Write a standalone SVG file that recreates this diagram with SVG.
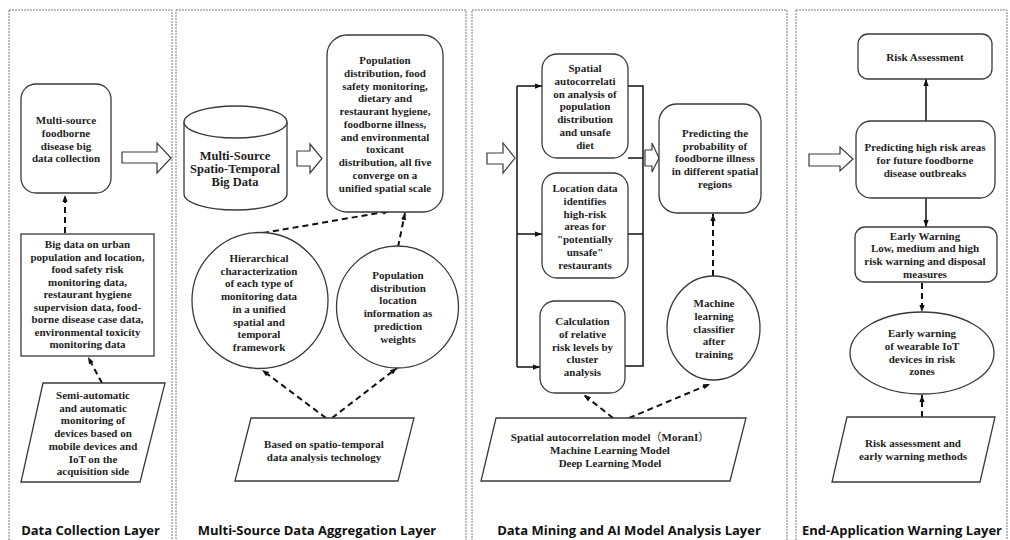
<svg xmlns="http://www.w3.org/2000/svg" width="1010" height="540" viewBox="0 0 1010 540">
<defs>
<style>
.panel{fill:none;stroke:#7a7a7a;stroke-width:1;stroke-dasharray:2 1}
.node{fill:#fff;stroke:#3a3a3a;stroke-width:1.3}
.hollow{fill:#fff;stroke:#3a3a3a;stroke-width:1.2}
.t{font-family:"Liberation Serif","Times New Roman",serif;font-weight:bold;font-size:11px;fill:#1e1e1e;text-anchor:middle}
.big{font-size:12.5px}
.title{font-family:"Open Sans","Noto Sans",sans-serif;font-weight:700;font-size:13px;fill:#111;text-anchor:middle}
.dash{fill:none;stroke:#111;stroke-width:2;stroke-dasharray:6 4;marker-end:url(#ah)}
.solid{fill:none;stroke:#111;stroke-width:1.5}
.solida{fill:none;stroke:#111;stroke-width:1.5;marker-end:url(#ah)}
</style>
<marker id="ah" viewBox="0 0 8 6" refX="8" refY="3" markerWidth="7" markerHeight="6" markerUnits="userSpaceOnUse" orient="auto">
<path d="M0,0 L8,3 L0,6 z" fill="#111"/>
</marker>
</defs>
<rect width="1010" height="540" fill="#fff"/>

<g id="panels">
<rect class="panel" x="9" y="10" width="163" height="540"/>
<rect class="panel" x="176" y="10" width="290" height="540"/>
<rect class="panel" x="472" y="10" width="315" height="540"/>
<rect class="panel" x="796" y="10" width="211" height="540"/>
</g>

<g id="titles">
<text class="title" x="90.5" y="535">Data Collection Layer</text>
<text class="title" x="317" y="535">Multi-Source Data Aggregation Layer</text>
<text class="title" x="629" y="535">Data Mining and AI Model Analysis Layer</text>
<text class="title" x="902" y="535">End-Application Warning Layer</text>
</g>

<g id="connectors">
<polygon class="hollow" points="122,152 157,152 157,143 171,158 157,173 157,163 122,163"/>
<polygon class="hollow" points="297,151 310,151 310,144 322,158.5 310,173 310,166 297,166"/>
<polygon class="hollow" points="487,153 503,153 503,143 515,158 503,173 503,164 487,164"/>
<polygon class="hollow" points="645,150 652,150 652,143 659,158 652,172 652,166 645,166"/>
<polygon class="hollow" points="809,154 840,154 840,147 853,159 840,171 840,166 809,166"/>
<path class="dash" d="M65,233 L65,195"/>
<path class="dash" d="M102,383 L88,357"/>
<path class="dash" d="M263,233 L390,211"/>
<path class="dash" d="M398,247 L405,213"/>
<path class="dash" d="M326,418 L262,370"/>
<path class="dash" d="M332,418 L397,368"/>
<path class="solid" d="M517,86 L517,367"/>
<path class="solida" d="M517,86 L542,86"/>
<path class="solida" d="M517,234 L542,234"/>
<path class="solida" d="M517,367 L540,367"/>
<path class="solid" d="M628,86 L643,86 L643,366 L625,366"/>
<path class="solid" d="M628,234 L643,234"/>
<path class="solid" d="M628,158 L643,158"/>
<path class="dash" d="M713,276 L713,214"/>
<path class="dash" d="M613,418 L584,395"/>
<path class="dash" d="M629,418 L710,384"/>
<path class="solida" d="M926,121 L926,79"/>
<path class="solida" d="M926,198 L926,227"/>
<path class="dash" d="M922,283 L922,312"/>
<path class="dash" d="M922,417 L922,395"/>
</g>

<g id="n-collection">
<rect class="node" x="21" y="84" width="90" height="109" rx="15"/>
<text class="t"><tspan x="66" y="124">Multi-source</tspan><tspan x="66" y="137">foodborne</tspan><tspan x="66" y="150">disease big</tspan><tspan x="66" y="162">data collection</tspan></text>
</g>

<g id="n-bigdata">
<rect class="node" x="21" y="234" width="133" height="122"/>
<text class="t"><tspan x="87.5" y="248">Big data on urban</tspan><tspan x="87.5" y="260.5">population and location,</tspan><tspan x="87.5" y="273">food safety risk</tspan><tspan x="87.5" y="285.5">monitoring data,</tspan><tspan x="87.5" y="298">restaurant hygiene</tspan><tspan x="87.5" y="310.5">supervision data, food-</tspan><tspan x="87.5" y="323">borne disease case data,</tspan><tspan x="87.5" y="335.5">environmental toxicity</tspan><tspan x="87.5" y="348">monitoring data</tspan></text>
</g>

<g id="n-semi">
<polygon class="node" points="43,383 165,383 140,482 21,482"/>
<text class="t"><tspan x="93" y="399">Semi-automatic</tspan><tspan x="93" y="411.7">and automatic</tspan><tspan x="93" y="424.4">monitoring of</tspan><tspan x="93" y="437.1">devices based on</tspan><tspan x="93" y="449.8">mobile devices and</tspan><tspan x="93" y="462.5">IoT on the</tspan><tspan x="93" y="475.2">acquisition side</tspan></text>
</g>

<g id="n-cylinder">
<path class="node" d="M184,122 L184,194 A51.5,16 0 0 0 287,194 L287,122"/>
<ellipse class="node" cx="235.5" cy="122" rx="51.5" ry="16"/>
<text class="t big"><tspan x="235" y="159.5">Multi-Source</tspan><tspan x="235" y="172.5">Spatio-Temporal</tspan><tspan x="235" y="185.5">Big Data</tspan></text>
</g>

<g id="n-converge">
<rect class="node" x="327" y="35" width="116" height="177" rx="20"/>
<text class="t"><tspan x="385" y="64">Population</tspan><tspan x="385" y="76.8">distribution, food</tspan><tspan x="385" y="89.5">safety monitoring,</tspan><tspan x="385" y="102.3">dietary and</tspan><tspan x="385" y="115">restaurant hygiene,</tspan><tspan x="385" y="127.8">foodborne illness,</tspan><tspan x="385" y="140.5">and environmental</tspan><tspan x="385" y="153.3">toxicant</tspan><tspan x="385" y="166">distribution, all five</tspan><tspan x="385" y="178.8">converge on a</tspan><tspan x="385" y="191.5">unified spatial scale</tspan></text>
</g>

<g id="n-hier">
<circle class="node" cx="260" cy="300.5" r="68"/>
<text class="t"><tspan x="259" y="262">Hierarchical</tspan><tspan x="259" y="274.7">characterization</tspan><tspan x="259" y="287.4">of each type of</tspan><tspan x="259" y="300.1">monitoring data</tspan><tspan x="259" y="312.8">in a unified</tspan><tspan x="259" y="325.5">spatial and</tspan><tspan x="259" y="338.2">temporal</tspan><tspan x="259" y="350.9">framework</tspan></text>
</g>

<g id="n-weights">
<circle class="node" cx="397.5" cy="307" r="61"/>
<text class="t"><tspan x="398" y="279">Population</tspan><tspan x="398" y="291.7">distribution</tspan><tspan x="398" y="304.4">location</tspan><tspan x="398" y="317.1">information as</tspan><tspan x="398" y="329.8">prediction</tspan><tspan x="398" y="342.5">weights</tspan></text>
</g>

<g id="n-spatiotemporal">
<polygon class="node" points="251,418 414,418 398,481 235,481"/>
<text class="t"><tspan x="324" y="448">Based on spatio-temporal</tspan><tspan x="324" y="461">data analysis technology</tspan></text>
</g>

<g id="n-autocorr">
<rect class="node" x="542" y="54" width="86" height="104" rx="15"/>
<text class="t"><tspan x="585" y="72">Spatial</tspan><tspan x="585" y="84.8">autocorrelati</tspan><tspan x="585" y="97.6">on analysis of</tspan><tspan x="585" y="110.4">population</tspan><tspan x="585" y="123.2">distribution</tspan><tspan x="585" y="136">and unsafe</tspan><tspan x="585" y="148.8">diet</tspan></text>
</g>

<g id="n-location">
<rect class="node" x="542" y="173" width="86" height="105" rx="15"/>
<text class="t"><tspan x="585" y="192">Location data</tspan><tspan x="585" y="204.8">identifies</tspan><tspan x="585" y="217.6">high-risk</tspan><tspan x="585" y="230.4">areas for</tspan><tspan x="585" y="243.2">"potentially</tspan><tspan x="585" y="256">unsafe"</tspan><tspan x="585" y="268.8">restaurants</tspan></text>
</g>

<g id="n-cluster">
<rect class="node" x="540" y="301" width="85" height="92" rx="15"/>
<text class="t"><tspan x="582.5" y="325">Calculation</tspan><tspan x="582.5" y="337.8">of relative</tspan><tspan x="582.5" y="350.6">risk levels by</tspan><tspan x="582.5" y="363.4">cluster</tspan><tspan x="582.5" y="376.2">analysis</tspan></text>
</g>

<g id="n-predict">
<rect class="node" x="659" y="104" width="102" height="109" rx="18"/>
<text class="t"><tspan x="715" y="137">Predicting the</tspan><tspan x="715" y="149.7">probability of</tspan><tspan x="715" y="162.4">foodborne illness</tspan><tspan x="715" y="175.1">in different spatial</tspan><tspan x="715" y="187.8">regions</tspan></text>
</g>

<g id="n-classifier">
<ellipse class="node" cx="713.5" cy="328" rx="46.5" ry="52"/>
<text class="t"><tspan x="714" y="307">Machine</tspan><tspan x="714" y="319.8">learning</tspan><tspan x="714" y="332.6">classifier</tspan><tspan x="714" y="345.4">after</tspan><tspan x="714" y="358.2">training</tspan></text>
</g>

<g id="n-models">
<polygon class="node" points="496,418 746,418 730,481 481,481"/>
<text class="t"><tspan x="610" y="441">Spatial autocorrelation model<tspan font-family="'Noto Sans CJK SC',sans-serif" font-weight="normal">（</tspan>MoranI<tspan font-family="'Noto Sans CJK SC',sans-serif" font-weight="normal">）</tspan></tspan><tspan x="610" y="454">Machine Learning Model</tspan><tspan x="610" y="467">Deep Learning Model</tspan></text>
</g>

<g id="n-riskassess">
<rect class="node" x="858" y="34" width="134" height="45" rx="10"/>
<text class="t"><tspan x="925" y="61">Risk Assessment</tspan></text>
</g>

<g id="n-highrisk">
<rect class="node" x="856" y="121" width="139" height="77" rx="15"/>
<text class="t"><tspan x="925" y="151">Predicting high risk areas</tspan><tspan x="925" y="164">for future foodborne</tspan><tspan x="925" y="177">disease outbreaks</tspan></text>
</g>

<g id="n-earlywarning">
<rect class="node" x="855" y="227" width="142" height="55" rx="10"/>
<text class="t"><tspan x="925" y="239.5">Early Warning</tspan><tspan x="925" y="252.3">Low, medium and high</tspan><tspan x="925" y="265.1">risk warning and disposal</tspan><tspan x="925" y="277.9">measures</tspan></text>
</g>

<g id="n-wearable">
<ellipse class="node" cx="922" cy="353" rx="72" ry="41"/>
<text class="t"><tspan x="922" y="337">Early warning</tspan><tspan x="922" y="349.8">of wearable IoT</tspan><tspan x="922" y="362.6">devices in risk</tspan><tspan x="922" y="375.4">zones</tspan></text>
</g>

<g id="n-methods">
<polygon class="node" points="847,417 995,417 980,482 832,482"/>
<text class="t"><tspan x="913" y="447">Risk assessment and</tspan><tspan x="913" y="460">early warning methods</tspan></text>
</g>
</svg>
